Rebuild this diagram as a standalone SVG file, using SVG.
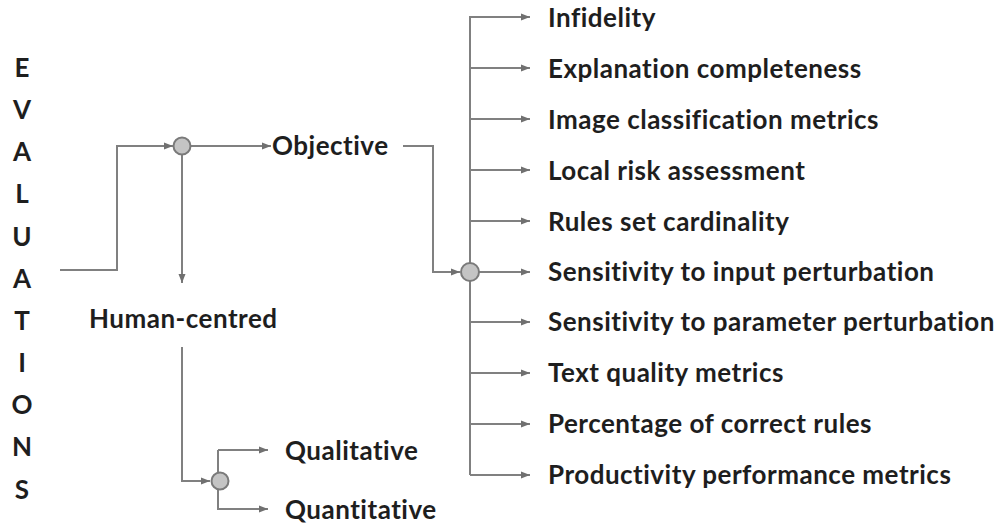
<svg xmlns="http://www.w3.org/2000/svg" width="1001" height="525" viewBox="0 0 1001 525">
<style>
text{font-family:Lato,"Open Sans","Liberation Sans",sans-serif;font-weight:bold;fill:#1e1e1e;font-size:26px;letter-spacing:0.5px;font-variant-ligatures:none}
.v{font-size:26px;text-anchor:middle;letter-spacing:0}
.c{stroke:#808080;stroke-width:2;fill:none}
.j{fill:#c4c4c4;stroke:#7a7a7a;stroke-width:2}
</style>
<defs>
<marker id="a" markerUnits="userSpaceOnUse" markerWidth="10" markerHeight="8" refX="9" refY="4" orient="auto">
<path d="M0,0.5 L9,4 L0,7.5 Z" fill="#707070"/>
</marker>
</defs>
<rect width="1001" height="525" fill="#ffffff"/>
<g id="connectors">
<path class="c" d="M60,270 H117 V146 H173" marker-end="url(#a)"/>
<path class="c" d="M191,146 H271" marker-end="url(#a)"/>
<path class="c" d="M182,155 V283" marker-end="url(#a)"/>
<path class="c" d="M403,146 H433 V272 H460" marker-end="url(#a)"/>
<path class="c" d="M182,347 V481 H210" marker-end="url(#a)"/>
<path class="c" d="M218,450 V509 H268" marker-end="url(#a)"/>
<path class="c" d="M218,450 H268" marker-end="url(#a)"/>
<path class="c" d="M470,475 V17 H530" marker-end="url(#a)"/>
<path class="c" d="M470,68 H530" marker-end="url(#a)"/>
<path class="c" d="M470,119 H530" marker-end="url(#a)"/>
<path class="c" d="M470,170 H530" marker-end="url(#a)"/>
<path class="c" d="M470,221 H530" marker-end="url(#a)"/>
<path class="c" d="M479,272 H530" marker-end="url(#a)"/>
<path class="c" d="M470,322 H530" marker-end="url(#a)"/>
<path class="c" d="M470,373 H530" marker-end="url(#a)"/>
<path class="c" d="M470,424 H530" marker-end="url(#a)"/>
<path class="c" d="M470,475 H530" marker-end="url(#a)"/>
</g>
<g id="evaluations">
<text class="v" x="22" y="77">E</text>
<text class="v" x="22" y="119">V</text>
<text class="v" x="22" y="161">A</text>
<text class="v" x="22" y="203">L</text>
<text class="v" x="22" y="246">U</text>
<text class="v" x="22" y="288">A</text>
<text class="v" x="22" y="330">T</text>
<text class="v" x="22" y="372">I</text>
<text class="v" x="22" y="414">O</text>
<text class="v" x="22" y="456">N</text>
<text class="v" x="22" y="499">S</text>
</g>
<g id="junction1"><circle class="j" cx="182" cy="146" r="8.5"/></g>
<g id="junction2"><circle class="j" cx="470" cy="272" r="9"/></g>
<g id="junction3"><circle class="j" cx="220" cy="481" r="8.5"/></g>
<g id="objective"><text x="272" y="155">Objective</text></g>
<g id="human-centred"><text x="89" y="328">Human-centred</text></g>
<g id="qualitative"><text x="285" y="460">Qualitative</text></g>
<g id="quantitative"><text x="285" y="519">Quantitative</text></g>
<g id="m1"><text x="548" y="27">Infidelity</text></g>
<g id="m2"><text x="548" y="78">Explanation completeness</text></g>
<g id="m3"><text x="548" y="129">Image classification metrics</text></g>
<g id="m4"><text x="548" y="180">Local risk assessment</text></g>
<g id="m5"><text x="548" y="231">Rules set cardinality</text></g>
<g id="m6"><text x="548" y="281">Sensitivity to input perturbation</text></g>
<g id="m7"><text x="548" y="331">Sensitivity to parameter perturbation</text></g>
<g id="m8"><text x="548" y="382">Text quality metrics</text></g>
<g id="m9"><text x="548" y="433">Percentage of correct rules</text></g>
<g id="m10"><text x="548" y="484">Productivity performance metrics</text></g>
</svg>
